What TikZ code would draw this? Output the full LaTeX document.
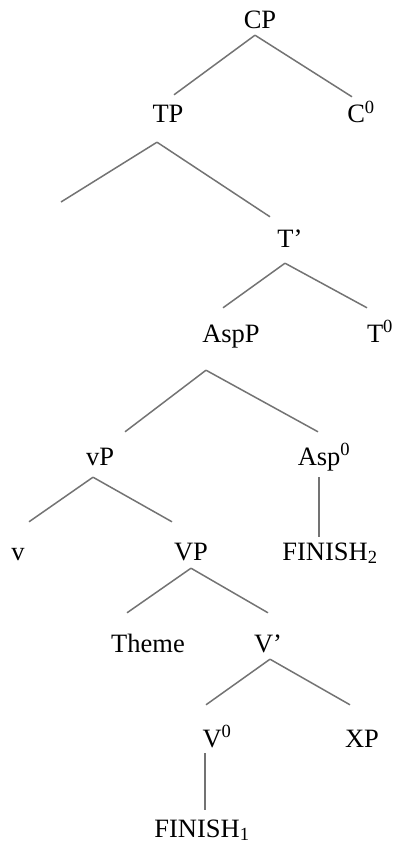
\documentclass[tikz,border=0pt]{standalone}
\usepackage{fontspec}
\setmainfont{Liberation Serif}
\usetikzlibrary{calc}

\begin{document}
\begin{tikzpicture}[x=1pt,y=-1pt,
        cat/.style={anchor=base,inner sep=0pt,text height=18pt,text depth=6pt,font=\fontsize{26.5}{30}\selectfont},
        branch/.style={line width=1.5pt,gray!90!black}]
        \useasboundingbox (0,0) rectangle (396,850);
        % labels of the tree
        \node[cat] (CP) at (260,29) {CP};
        \node[cat] (TP) at (168,123) {TP};
        \node[cat] (Cnull) at (361,123) {C\textsuperscript{0}};
        \node[cat] (Tbar) at (290,247) {T'};
        \node[cat] (AspP) at (231,342) {AspP};
        \node[cat] (Tnull) at (380,342) {T\textsuperscript{0}};
        \node[cat] (vP) at (100,465) {vP};
        \node[cat] (Aspnull) at (324,465) {Asp\textsuperscript{0}};
        \node[cat] (v) at (18,560) {v};
        \node[cat] (VP) at (191,560) {VP};
        \node[cat] (finB) at (330,560) {FINISH\textsubscript{2}};
        \node[cat] (Theme) at (148,652) {Theme};
        \node[cat] (Vbar) at (268,652) {V'};
        \node[cat] (Vnull) at (217,747) {V\textsuperscript{0}};
        \node[cat] (XP) at (362,747) {XP};
        \node[cat] (finA) at (202,837) {FINISH\textsubscript{1}};
        \coordinate (spec) at (61,202);
        % branches
        \foreach \p/\c/\ax/\ay/\bx/\by in {CP/TP/-5/0/6/10, CP/Cnull/-5/0/-9/8,
            TP/Tbar/-11/13/-20/12, Tbar/AspP/-5/10/-8/16, Tbar/Tnull/-5/10/-13/16,
            AspP/vP/-25/22/25/15, AspP/Aspnull/-25/22/-6/15,
            vP/v/-7/6/11/20, vP/VP/-7/6/-19/20, Aspnull/finB/-5/6/-11/5,
            VP/Theme/0/2/-21/21, VP/Vbar/0/2/0/21,
            Vbar/Vnull/2/1/-11/24, Vbar/XP/2/1/-12/24, Vnull/finA/-12/0/3/9} {
            \draw[branch] ([shift={(\ax pt,-\ay pt)}]\p.south) -- ([shift={(\bx pt,\by pt)}]\c.north);
        }
        \draw[branch] ([shift={(-11pt,-13pt)}]TP.south) -- (spec);
    \end{tikzpicture}
\end{document}
